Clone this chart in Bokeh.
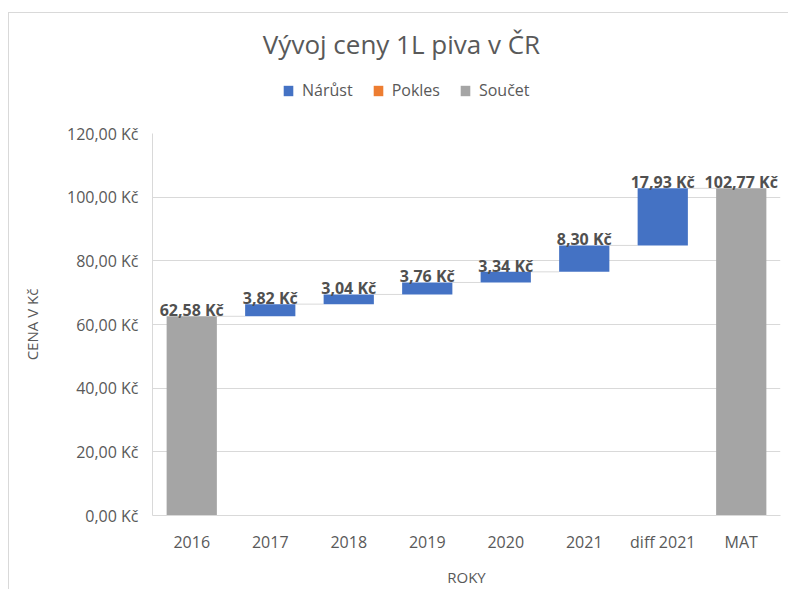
import numpy as np
from bokeh.plotting import figure
from bokeh.layouts import column
from bokeh.models import Range1d, FixedTicker, Legend, LegendItem, ColumnDataSource, Label
from bokeh.embed import file_html
from bokeh.resources import INLINE
from bokeh.core.properties import value

# ---- data ----
categories = ["2016", "2017", "2018", "2019", "2020", "2021", "diff 2021", "MAT"]
values = [62.58, 3.82, 3.04, 3.76, 3.34, 8.30, 17.93, 102.77]
kinds = ["total", "increase", "increase", "increase", "increase", "increase", "increase", "total"]
y_ticks = [0, 20, 40, 60, 80, 100, 120]
y_tick_labels = ["0,00 Kč", "20,00 Kč", "40,00 Kč", "60,00 Kč", "80,00 Kč", "100,00 Kč", "120,00 Kč"]
legend_labels = ["Nárůst", "Pokles", "Součet"]
title_text = "Vývoj ceny 1L piva v ČR"

FONT = "Open Sans"
TEXT_COL = "#595959"
LABEL_COL = "#505050"
GRID_COL = "#d9d9d9"
BLUE = "#4472C4"
ORANGE = "#ED7D31"
GRAY = "#A5A5A5"
BAR_W = 0.64
W = 780
HEAD_H = 110
CHART_H = 467

# ---- waterfall geometry from data ----
bottoms, tops, ends = [], [], []
running = 0.0
for v, k in zip(values, kinds):
    if k == "total":
        bottoms.append(0.0); tops.append(v); running = v
    elif k == "increase":
        bottoms.append(running); running += v; tops.append(running)
    else:
        tops.append(running); running -= v; bottoms.append(running)
    ends.append(running)

xs = np.arange(len(categories))
colors = {"total": GRAY, "increase": BLUE, "decrease": ORANGE}

def fmt(v):
    return f"{v:.2f}".replace(".", ",") + " Kč"

# ---- header (title + legend) ----
head = figure(width=W, height=HEAD_H, x_range=Range1d(0, 1), y_range=Range1d(0, HEAD_H),
              output_backend="svg", toolbar_location=None,
              min_border_left=0, min_border_right=0, min_border_top=0, min_border_bottom=0)
head.axis.visible = False
head.grid.visible = False
head.outline_line_color = None
head.styles = {"border-left": "1px solid #d9d9d9", "border-top": "1px solid #d9d9d9",
               "margin-left": "8px", "margin-top": "12px"}
head.add_layout(Label(x=249, y=HEAD_H - 30, x_units="screen", text=title_text,
                      text_align="center", text_baseline="alphabetic", text_font=FONT,
                      text_font_size="26px", text_color=TEXT_COL))

dummy = {}
for kind, col in [("increase", BLUE), ("decrease", ORANGE), ("total", GRAY)]:
    dummy[kind] = head.vbar(x=[0], top=[0], bottom=[0], width=0, fill_color=col, line_color=None)

legend = Legend(items=[LegendItem(label=legend_labels[0], renderers=[dummy["increase"]]),
                       LegendItem(label=legend_labels[1], renderers=[dummy["decrease"]]),
                       LegendItem(label=legend_labels[2], renderers=[dummy["total"]])],
                location=(130, 22), orientation="horizontal",
                glyph_width=12, glyph_height=13, label_standoff=8, spacing=19,
                padding=0, margin=0, label_text_font=FONT, label_text_font_size="16px",
                label_text_color=TEXT_COL, border_line_color=None, background_fill_alpha=0)
head.add_layout(legend)

# ---- chart ----
p = figure(width=W, height=CHART_H, x_range=Range1d(-0.5, len(categories) - 0.5),
           y_range=Range1d(0, 120), output_backend="svg", toolbar_location=None,
           min_border_left=143, min_border_right=9, min_border_top=11, min_border_bottom=72)
p.styles = {"border-left": "1px solid #d9d9d9", "margin-left": "8px"}
p.outline_line_color = None
p.background_fill_color = "white"

cx0 = xs[:-1] + BAR_W / 2
cx1 = xs[1:] - BAR_W / 2
p.segment(x0=cx0, y0=ends[:-1], x1=cx1, y1=ends[:-1], line_color=GRID_COL, line_width=1)

for kind in ["increase", "decrease", "total"]:
    idx = [i for i, k in enumerate(kinds) if k == kind]
    src = ColumnDataSource(dict(x=[xs[i] for i in idx], top=[tops[i] for i in idx],
                                bottom=[bottoms[i] for i in idx]))
    p.vbar(x="x", top="top", bottom="bottom", width=BAR_W, source=src,
           fill_color=colors[kind], line_color=None)

lsrc = ColumnDataSource(dict(x=xs, y=tops, t=[fmt(v) for v in values]))
p.text(x="x", y="y", text="t", source=lsrc, text_align="center", text_baseline="alphabetic",
       y_offset=-6, text_font=value(FONT), text_font_size="16px", text_font_style="bold",
       text_color=LABEL_COL)

p.xgrid.visible = False
p.ygrid.ticker = FixedTicker(ticks=y_ticks)
p.ygrid.grid_line_color = GRID_COL
p.yaxis.ticker = FixedTicker(ticks=y_ticks)
p.yaxis.major_label_overrides = {t: l for t, l in zip(y_ticks, y_tick_labels)}
p.xaxis.ticker = FixedTicker(ticks=list(xs))
p.xaxis.major_label_overrides = {int(i): c for i, c in zip(xs, categories)}
for ax in (p.xaxis, p.yaxis):
    ax.axis_line_color = GRID_COL
    ax.major_tick_line_color = None
    ax.minor_tick_line_color = None
    ax.major_tick_out = 0
    ax.major_tick_in = 0
    ax.minor_tick_out = 0
    ax.minor_tick_in = 0
    ax.major_label_text_font = FONT
    ax.major_label_text_font_size = "16px"
    ax.major_label_text_color = TEXT_COL
    ax.axis_label_text_font = FONT
    ax.axis_label_text_font_size = "15px"
    ax.axis_label_text_font_style = "normal"
    ax.axis_label_text_color = TEXT_COL
p.yaxis.major_label_standoff = 14
p.xaxis.major_label_standoff = 15
p.yaxis.axis_label = "CENA V Kč"
p.yaxis.axis_label_standoff = 22
p.xaxis.axis_label = "ROKY"
p.xaxis.axis_label_standoff = 11

layout = column(head, p, spacing=0)
open("out.html", "w").write(file_html(layout, INLINE))
